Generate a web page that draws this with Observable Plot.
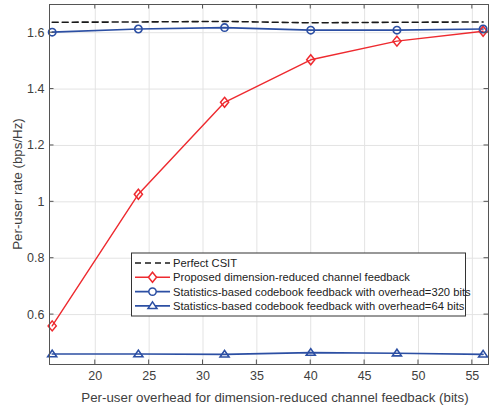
<!DOCTYPE html>
<html><head><meta charset="utf-8">
<script src="https://cdn.jsdelivr.net/npm/d3@7"></script>
<script src="https://cdn.jsdelivr.net/npm/@observablehq/plot@0.6"></script>
<style>body{margin:0;background:#fff}</style>
</head><body><div id="chart"></div>
<script>
const overhead = [16, 24, 32, 40, 48, 56];
const perfectCSIT = [1.637, 1.638, 1.640, 1.635, 1.637, 1.638];
const proposed = [0.560, 1.027, 1.353, 1.504, 1.570, 1.605];
const stat320 = [1.602, 1.613, 1.618, 1.609, 1.609, 1.613];
const stat64 = [0.460, 0.460, 0.459, 0.465, 0.463, 0.459];
const seriesNames = [
  "Perfect CSIT",
  "Proposed dimension-reduced channel feedback",
  "Statistics-based codebook feedback with overhead=320 bits",
  "Statistics-based codebook feedback with overhead=64 bits"
];
const xTicks = [20, 25, 30, 35, 40, 45, 50, 55];
const yTicks = [0.6, 0.8, 1, 1.2, 1.4, 1.6];
const xLabel = "Per-user overhead for dimension-reduced channel feedback (bits)";
const yLabel = "Per-user rate (bps/Hz)";

const RED = "#ee2a2f", BLUE = "#2c4fa3", BLACK = "#1a1a1a";
const FONT = "'Liberation Sans', Arial, Helvetica, sans-serif";

const tallDiamond = {draw(ctx, size) {
  const w = Math.sqrt(size / Math.PI);
  const hw = w * 1.1, hh = w * 1.35;
  ctx.moveTo(0, -hh); ctx.lineTo(hw, 0); ctx.lineTo(0, hh); ctx.lineTo(-hw, 0); ctx.closePath();
}};
const triUp = {draw(ctx, size) {
  const w = Math.sqrt(size / Math.PI);
  const hw = w * 1.25, h = w * 1.85;
  ctx.moveTo(0, -h * 0.6); ctx.lineTo(hw, h * 0.4); ctx.lineTo(-hw, h * 0.4); ctx.closePath();
}};
const circ = {draw(ctx, size) {
  const r = Math.sqrt(size / Math.PI);
  ctx.moveTo(r, 0); ctx.arc(0, 0, r, 0, 2 * Math.PI);
}};

const rows = overhead.map((x, i) => ({x, perfect: perfectCSIT[i], proposed: proposed[i], s320: stat320[i], s64: stat64[i]}));

const W = 489, H = 412, mL = 49, mR = 1, mT = 4, mB = 48;
const plot = Plot.plot({
  width: W, height: H,
  marginLeft: mL, marginRight: mR, marginTop: mT, marginBottom: mB,
  style: {fontFamily: FONT, fontSize: "12.5px", color: "#404040", background: "#fff", overflow: "visible"},
  x: {domain: [15.75, 56.5], ticks: xTicks},
  y: {domain: [0.423, 1.7], ticks: yTicks},
  marks: [
    Plot.gridX(xTicks, {stroke: "#e3e3e3", strokeOpacity: 1}),
    Plot.gridY(yTicks, {stroke: "#e3e3e3", strokeOpacity: 1}),
    Plot.axisX(xTicks, {anchor: "bottom", tickSize: 0, tickPadding: 7, label: null, fill: "#404040"}),
    Plot.axisY(yTicks, {anchor: "left", tickSize: 0, tickPadding: 5, label: null, fill: "#404040", tickFormat: d => String(d)}),
    Plot.line(rows, {x: "x", y: "perfect", stroke: BLACK, strokeWidth: 1.6, strokeDasharray: "6,4"}),
    Plot.line(rows, {x: "x", y: "s64", stroke: BLUE, strokeWidth: 1.6}),
    Plot.line(rows, {x: "x", y: "proposed", stroke: RED, strokeWidth: 1.4}),
    Plot.line(rows, {x: "x", y: "s320", stroke: BLUE, strokeWidth: 1.6}),
    Plot.dot(rows, {x: "x", y: "proposed", symbol: tallDiamond, r: 3.7, stroke: RED, strokeWidth: 1.5, fill: "none"}),
    Plot.dot(rows, {x: "x", y: "s320", symbol: circ, r: 3.7, stroke: BLUE, strokeWidth: 1.6, fill: "none"}),
    Plot.dot(rows, {x: "x", y: "s64", symbol: triUp, r: 3.6, stroke: BLUE, strokeWidth: 1.6, fill: "none"}),
    Plot.frame({stroke: "#555", strokeWidth: 1})
  ]
});
document.getElementById("chart").appendChild(plot);

const svg = d3.select(plot);
const sx = plot.scale("x"), sy = plot.scale("y");
const x0 = mL, x1 = W - mR, y0 = mT, y1 = H - mB;
// inward tick marks on all four sides
const tk = svg.append("g").attr("stroke", "#555").attr("stroke-width", 1);
xTicks.forEach(t => {
  const px = sx.apply(t);
  tk.append("line").attr("x1", px).attr("x2", px).attr("y1", y1).attr("y2", y1 - 4.5);
  tk.append("line").attr("x1", px).attr("x2", px).attr("y1", y0).attr("y2", y0 + 4.5);
});
yTicks.forEach(t => {
  const py = sy.apply(t);
  tk.append("line").attr("y1", py).attr("y2", py).attr("x1", x0).attr("x2", x0 + 4.5);
  tk.append("line").attr("y1", py).attr("y2", py).attr("x1", x1).attr("x2", x1 - 4.5);
});

// axis titles
svg.append("text").attr("x", 275).attr("y", 402).attr("text-anchor", "middle")
  .attr("font-family", FONT).attr("font-size", 13.3).attr("fill", "#404040").text(xLabel);
svg.append("text").attr("transform", "translate(17," + ((y0 + y1) / 2) + ") rotate(-90)")
  .attr("text-anchor", "middle").attr("dy", "0.35em")
  .attr("font-family", FONT).attr("font-size", 13.3).attr("fill", "#404040").text(yLabel);

// legend
const lg = svg.append("g");
lg.append("rect").attr("x", 131.5).attr("y", 253).attr("width", 334).attr("height", 63)
  .attr("fill", "#fff").attr("stroke", "#333").attr("stroke-width", 1);
const legendStyles = [
  {stroke: BLACK, dash: "6,4", sym: null},
  {stroke: RED, dash: "none", sym: tallDiamond, r: 3.7},
  {stroke: BLUE, dash: "none", sym: circ, r: 3.7},
  {stroke: BLUE, dash: "none", sym: triUp, r: 3.6}
];
seriesNames.forEach((name, i) => {
  const y = 263 + i * 14.3;
  const s = legendStyles[i];
  lg.append("path").attr("d", `M135,${y}H170`).attr("fill", "none")
    .attr("stroke", s.stroke).attr("stroke-width", 1.6).attr("stroke-dasharray", s.dash);
  if (s.sym) {
    lg.append("path").attr("transform", `translate(152.5,${y})`)
      .attr("d", d3.symbol(s.sym, Math.PI * s.r * s.r)())
      .attr("fill", "#fff").attr("stroke", s.stroke).attr("stroke-width", 1.5);
  }
  lg.append("text").attr("x", 173).attr("y", y).attr("dy", "0.35em").attr("text-anchor", "start")
    .attr("font-family", FONT).attr("font-size", 11.2).attr("fill", "#222").text(name);
});
</script>
</body></html>
